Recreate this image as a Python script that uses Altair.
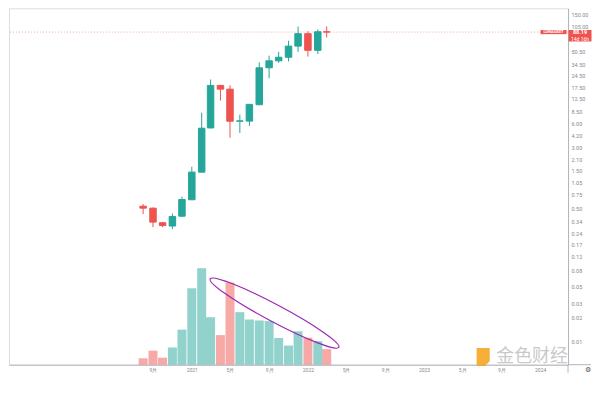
import altair as alt
import pandas as pd

# ---------------- data ----------------
months = ["2020-08", "2020-09", "2020-10", "2020-11", "2020-12",
          "2021-01", "2021-02", "2021-03", "2021-04", "2021-05", "2021-06",
          "2021-07", "2021-08", "2021-09", "2021-10", "2021-11", "2021-12",
          "2022-01", "2022-02", "2022-03"]
opens = [0.530, 0.500, 0.326, 0.296, 0.395, 0.640, 1.44, 5.28, 18.4, 16.5, 6.43,
         6.45, 10.45, 30.9, 37.9, 42.1, 58.4, 84.1, 51.6, 89.0]
highs = [0.565, 0.510, 0.333, 0.427, 0.701, 1.687, 8.27, 21.9, 18.7, 18.5, 7.82,
         10.6, 36.3, 44.1, 49.4, 68.4, 104.0, 90.5, 94.9, 104.0]
lows = [0.420, 0.286, 0.286, 0.270, 0.390, 0.635, 1.43, 5.20, 11.8, 3.96, 4.55,
        5.59, 10.3, 22.7, 35.6, 37.3, 49.4, 42.9, 46.2, 75.2]
closes = [0.500, 0.332, 0.300, 0.392, 0.645, 1.442, 5.24, 18.4, 16.5, 6.43, 6.50,
          10.56, 30.9, 37.9, 42.1, 58.4, 84.1, 51.6, 89.0, 88.19]
volumes = [67, 147, 73, 180, 367, 800, 1010, 497, 310, 860, 550,
           473, 463, 457, 280, 200, 350, 283, 247, 163]  # millions

price_ticks = [150, 105, 50.5, 34.5, 24.5, 17.5, 12.5, 8.5, 6.0, 4.2, 3.0, 2.1,
               1.5, 1.05, 0.75, 0.5, 0.34, 0.24, 0.17, 0.12, 0.08, 0.05, 0.03, 0.02, 0.01]
x_tick_months = ["2020-09", "2021-01", "2021-05", "2021-09", "2022-01", "2022-05",
                 "2022-09", "2023-01", "2023-05", "2023-09", "2024-01"]
x_tick_labels = ["9月", "2021", "5月", "9月", "2022", "5月", "9月", "2023", "5月", "9月", "2024"]

symbol = "LUNAUSDT"
countdown = "14d 16h"
watermark = "金色财经"
ellipse_center = {"date": "2021-09-18T00:00:00", "v": 540}

# ---------------- tables ----------------
df = pd.DataFrame({
    "date": [m + "-01T00:00:00" for m in months],
    "open": opens, "high": highs, "low": lows, "close": closes, "volume": volumes,
})
df["dir"] = ["up" if c >= o else "down" for o, c in zip(opens, closes)]
last_df = pd.DataFrame({"price": [closes[-1]]})
ell_df = pd.DataFrame({"date": [ellipse_center["date"]], "v": [ellipse_center["v"]]})
one = pd.DataFrame({"a": [0]})

# ---------------- styling ----------------
W, H = 560, 357
UP, DOWN = "#26a69a", "#ef5350"
AXIS_C = "#b2b5be"
LABEL_C = "#858892"

price_scale = alt.Scale(type="log", domain=[0.005035, 177.3], nice=False)
vol_scale = alt.Scale(domain=[0, 3730], nice=False, zero=True)
x_scale = alt.Scale(domain=[alt.DateTime(year=2019, month=6, date=22),
                            alt.DateTime(year=2024, month=3, date=13)], nice=False)
dir_color = alt.Color("dir:N", scale=alt.Scale(domain=["up", "down"], range=[UP, DOWN]), legend=None)

label_expr = "{}[indexof({}, timeFormat(datum.value, '%Y-%m'))]".format(
    "[" + ",".join("'%s'" % s for s in x_tick_labels) + "]",
    "[" + ",".join("'%s'" % s for s in x_tick_months) + "]")
x_axis = alt.Axis(
    values=[alt.DateTime(year=int(m[:4]), month=int(m[5:]), date=1) for m in x_tick_months],
    labelExpr=label_expr, title=None, ticks=False, grid=False, domainColor=AXIS_C,
    labelColor=LABEL_C, labelFontSize=5, labelFont="Roboto", labelPadding=3,
    labelOverlap=False, labelFlush=False)
price_axis = alt.Axis(
    orient="right", values=price_ticks, format=".2f", title=None, ticks=False, grid=False,
    domainColor=AXIS_C, labelColor=LABEL_C, labelFontSize=5.5, labelFont="Roboto",
    labelPadding=3, labelOverlap=False, labelFlush=False)

X = alt.X("date:T", scale=x_scale, axis=x_axis)
base = alt.Chart(df).encode(x=X)

vol = base.mark_bar(size=9, opacity=0.5).encode(
    y=alt.Y("volume:Q", scale=vol_scale, axis=None), color=dir_color)

ellipse_path = "M -1 0 A 1 0.118 0 1 1 1 0 A 1 0.118 0 1 1 -1 0 Z"
ellipse = alt.Chart(ell_df).mark_point(
    shape=ellipse_path, size=21316, angle=28, filled=False, color="#9c27b0",
    strokeWidth=1.2, opacity=1).encode(
    x=X, y=alt.Y("v:Q", scale=vol_scale, axis=None))

price_line = alt.Chart(last_df).mark_rule(color="#f4a6a4", strokeDash=[1, 2], strokeWidth=1).encode(
    y=alt.Y("price:Q", scale=price_scale, axis=None))

wick = base.mark_rule(strokeWidth=1).encode(
    y=alt.Y("low:Q", scale=price_scale, axis=price_axis), y2="high:Q", color=dir_color)
body = base.mark_bar(size=6.5, strokeWidth=1).encode(
    y=alt.Y("open:Q", scale=price_scale, axis=None), y2="close:Q", color=dir_color,
    stroke=alt.Stroke("dir:N", scale=alt.Scale(domain=["up", "down"], range=[UP, DOWN]), legend=None))

tag_path = "M -1 -0.183 L 1 -0.183 L 1 0.817 L -1 0.817 Z"
price_tag = alt.Chart(last_df).mark_point(
    shape=tag_path, size=529, filled=True, color=DOWN, opacity=1, strokeWidth=0).encode(
    x=alt.value(W + 12), y=alt.Y("price:Q", scale=price_scale, axis=None))
price_txt = alt.Chart(last_df).mark_text(
    color="white", fontSize=5.5, font="Roboto", fontWeight="bold").encode(
    x=alt.value(W + 12), y=alt.Y("price:Q", scale=price_scale, axis=None),
    text=alt.Text("price:Q", format=".2f"))
count_txt = alt.Chart(last_df).mark_text(
    color="white", fontSize=5, font="Roboto", dy=6.5, text=countdown).encode(
    x=alt.value(W + 12), y=alt.Y("price:Q", scale=price_scale, axis=None))

sym_path = "M -1 -0.16 L 1 -0.16 L 1 0.16 L -1 0.16 Z"
sym_tag = alt.Chart(last_df).mark_point(
    shape=sym_path, size=676, filled=True, color=DOWN, opacity=1, strokeWidth=0).encode(
    x=alt.value(W - 14.5), y=alt.Y("price:Q", scale=price_scale, axis=None))
sym_txt = alt.Chart(last_df).mark_text(
    color="white", fontSize=4, font="Roboto", fontWeight="bold", text=symbol).encode(
    x=alt.value(W - 14.5), y=alt.Y("price:Q", scale=price_scale, axis=None))

# axis line extensions (bottom line runs under the price scale, price line runs to the bottom)
h_ext = alt.Chart(one).mark_rule(color=AXIS_C, strokeWidth=1).encode(
    x=alt.value(W), x2=alt.value(W + 23), y=alt.value(H))
v_ext = alt.Chart(one).mark_rule(color=AXIS_C, strokeWidth=1).encode(
    x=alt.value(W), y=alt.value(H), y2=alt.value(H + 8))

logo_path = "M -0.8 -1 L 0.8 -1 L 0.8 0.6 L 0.2 1.2 L -0.8 1.2 Z"
logo = alt.Chart(one).mark_point(
    shape=logo_path, size=270, filled=True, color="#f5a623", opacity=0.9, strokeWidth=0).encode(
    x=alt.value(475), y=alt.value(348.5))
wm = alt.Chart(one).mark_text(
    text=watermark, font="Noto Sans CJK SC", fontSize=18, color="#b8b8b8", opacity=0.75).encode(
    x=alt.value(524), y=alt.value(349.5))
gear = alt.Chart(one).mark_text(text="⚙", fontSize=7, color="#555").encode(
    x=alt.value(W + 20), y=alt.value(H + 5))

chart = alt.layer(
    vol, ellipse, price_line, wick, body, sym_tag, sym_txt, price_tag, price_txt, count_txt,
    h_ext, v_ext, logo, wm, gear
).resolve_scale(y="independent").properties(
    width=W, height=H, padding=0
).configure_view(stroke=None).configure(background="white")

chart.save("out.html", embed_options={"renderer": "svg", "actions": False})
